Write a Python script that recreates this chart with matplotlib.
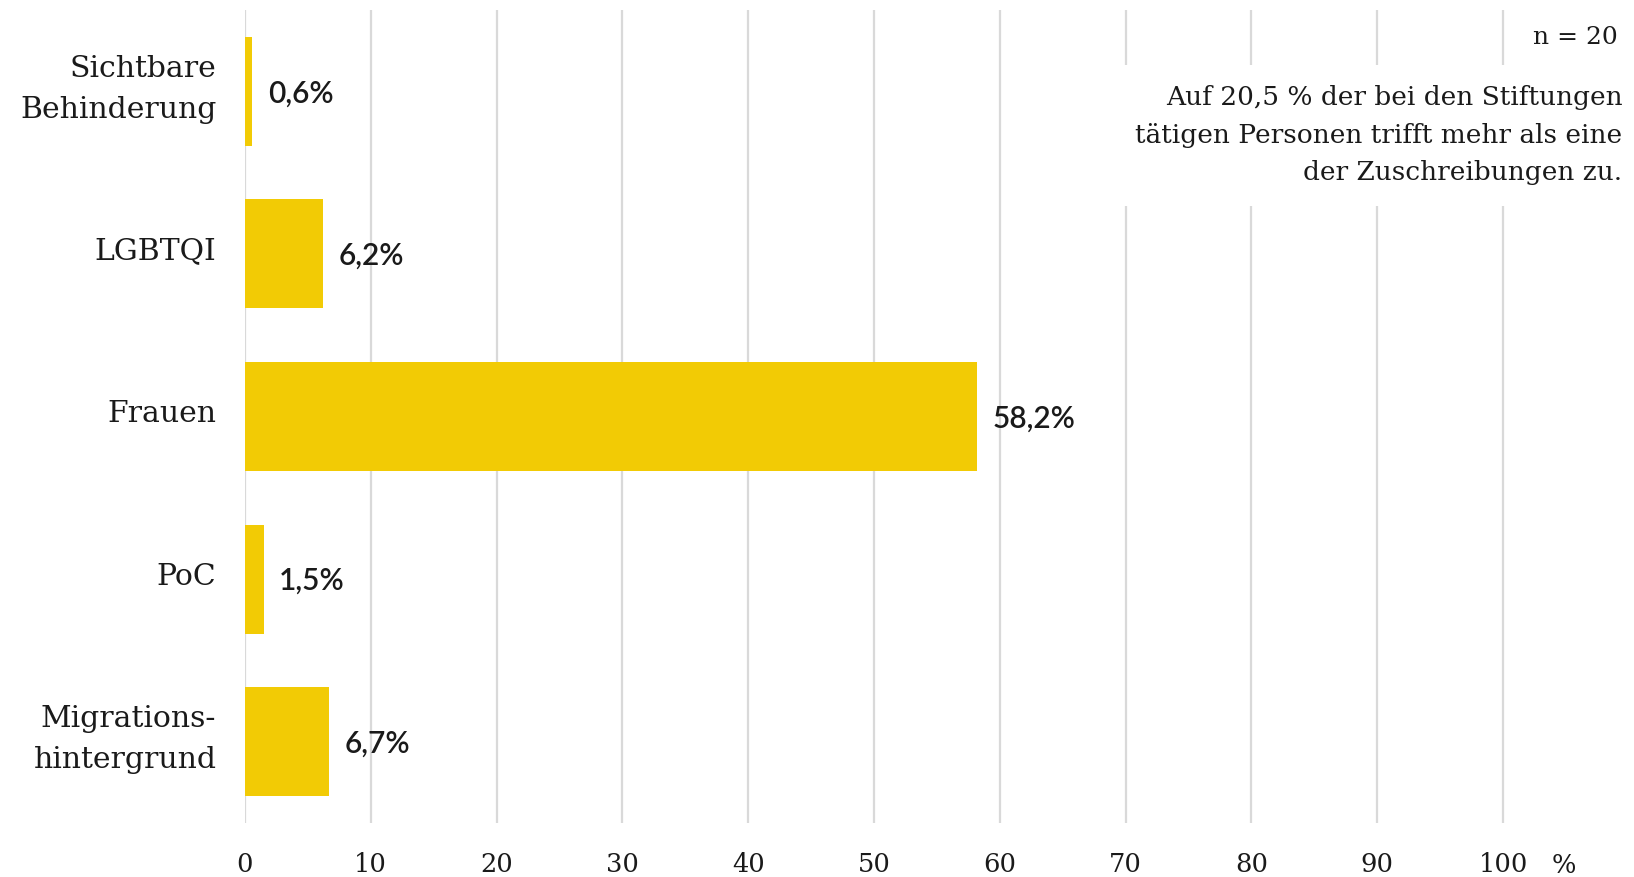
import matplotlib
matplotlib.use("Agg")
import matplotlib.pyplot as plt
import matplotlib.transforms as mtransforms

# data
categories = ["Sichtbare\nBehinderung", "LGBTQI", "Frauen", "PoC", "Migrations-\nhintergrund"]
values = [0.6, 6.2, 58.2, 1.5, 6.7]
value_labels = ["0,6%", "6,2%", "58,2%", "1,5%", "6,7%"]
xticks = [0, 10, 20, 30, 40, 50, 60, 70, 80, 90, 100]
n_text = "n = 20"
note_text = ("Auf 20,5 % der bei den Stiftungen\n"
             "tätigen Personen trifft mehr als eine\n"
             "der Zuschreibungen zu.")

yellow = "#F2CB05"
grid_col = "#d9d9d9"
txt_col = "#1a1a1a"
serif = "DejaVu Serif"

fig = plt.figure(figsize=(16.34, 8.77), dpi=100)
ax = fig.add_axes([0.1499, 0.0616, 0.847, 0.927])

y = range(len(categories))
ax.barh(y, values, height=0.67, color=yellow, zorder=2)
ax.set_xlim(0, 110)
ax.set_ylim(4.5, -0.5)

ax.set_xticks(xticks)
ax.set_xticklabels([str(t) for t in xticks], family=serif, fontsize=18.5, color=txt_col)
ax.set_yticks(list(y))
ax.set_yticklabels(categories, family=serif, fontsize=21.5, color=txt_col, linespacing=1.58)
ax.tick_params(axis="x", length=0, pad=21)
ax.tick_params(axis="y", length=0, pad=20.5)
ax.xaxis.grid(True, color=grid_col, linewidth=1.6, zorder=0)
ax.set_axisbelow(True)
for s in ax.spines.values():
    s.set_visible(False)

# labels sit slightly above the bar centre, two-line ones a bit more
for lab in ax.get_yticklabels():
    dy = 8.3 if "\n" in lab.get_text() else 3.8
    lab.set_transform(lab.get_transform() +
                      mtransforms.ScaledTranslation(0, dy / 72, fig.dpi_scale_trans))

for yi, v, lab in zip(y, values, value_labels):
    ax.annotate(lab, (v, yi), xytext=(11, -1.5), textcoords="offset points",
                va="center", ha="left", family="Lato", fontsize=21.5,
                fontweight="semibold", color=txt_col)

# unit label to the right of the tick labels
trans = mtransforms.blended_transform_factory(ax.transData, ax.transAxes)
ax.text(104.8, -0.052, "%", transform=trans, ha="center", va="center",
        family=serif, fontsize=18.5, color=txt_col)

fig.text(0.99, 0.957, n_text, ha="right", va="center", family=serif,
         fontsize=18, color=txt_col)
fig.text(0.993, 0.846, note_text, ha="right", va="center", family=serif,
         fontsize=19, color=txt_col, linespacing=1.61,
         bbox=dict(facecolor="white", edgecolor="none", pad=15))

fig.savefig("out.png", dpi=100)
